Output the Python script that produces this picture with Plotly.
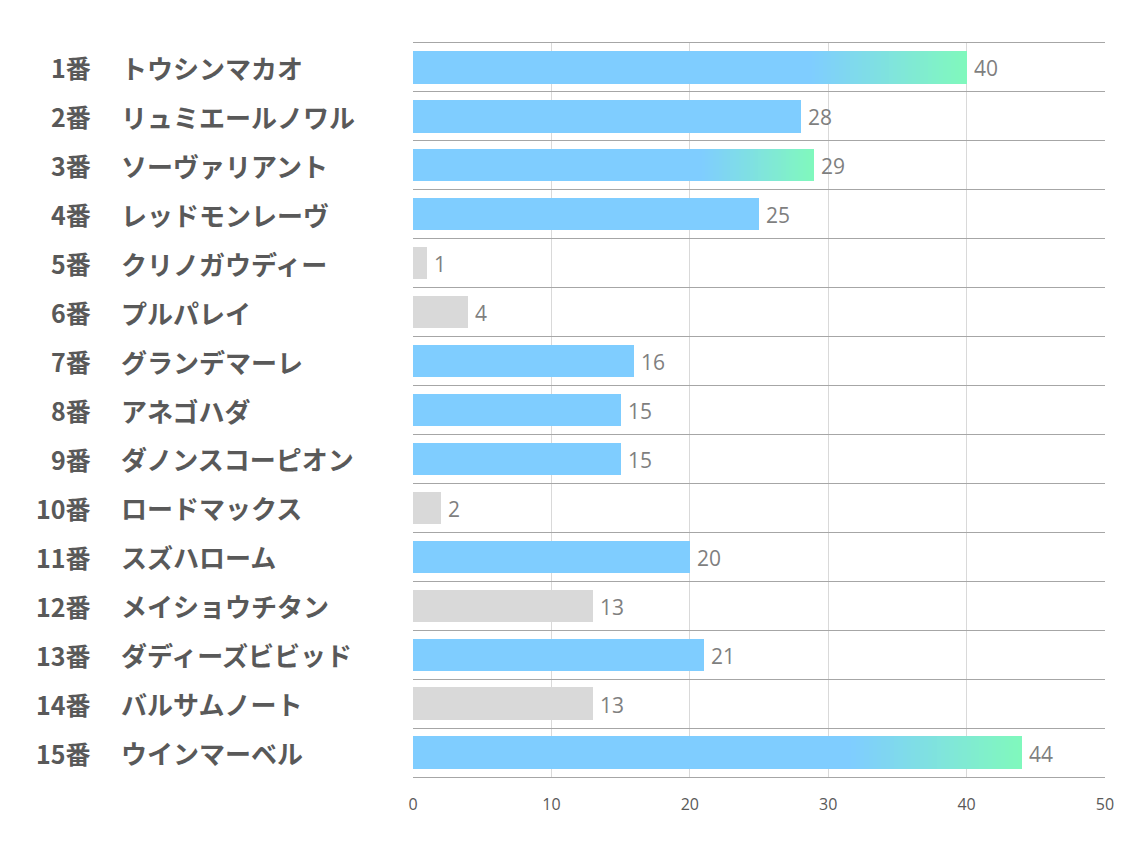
import plotly.graph_objects as go

numbers = ["1番", "2番", "3番", "4番", "5番", "6番", "7番", "8番", "9番", "10番",
           "11番", "12番", "13番", "14番", "15番"]
names = ["トウシンマカオ", "リュミエールノワル", "ソーヴァリアント", "レッドモンレーヴ",
         "クリノガウディー", "プルパレイ", "グランデマーレ", "アネゴハダ", "ダノンスコーピオン",
         "ロードマックス", "スズハローム", "メイショウチタン", "ダディーズビビッド",
         "バルサムノート", "ウインマーベル"]
values = [40, 28, 29, 25, 1, 4, 16, 15, 15, 2, 20, 13, 21, 13, 44]
# bar style: "top" = blue→green gradient, "blue", "gray"
styles = ["top", "blue", "top", "blue", "gray", "gray", "blue", "blue", "blue", "gray",
          "blue", "gray", "blue", "gray", "top"]
tick_values = [0, 10, 20, 30, 40, 50]

BLUE = (127, 205, 255)
GREEN = (128, 249, 188)
GRAY = "#d9d9d9"
BAR_W = 0.66
GRAD_START = 0.72
N_SEG = 40

fig = go.Figure()

for i, (v, s) in enumerate(zip(values, styles)):
    if s == "gray":
        fig.add_trace(go.Bar(x=[v], y=[i], orientation="h", marker_color=GRAY,
                             marker_line_width=0, width=BAR_W, hoverinfo="skip"))
    elif s == "blue":
        fig.add_trace(go.Bar(x=[v], y=[i], orientation="h",
                             marker_color="rgb(%d,%d,%d)" % BLUE,
                             marker_line_width=0, width=BAR_W, hoverinfo="skip"))
    else:
        start = v * GRAD_START
        fig.add_trace(go.Bar(x=[start], y=[i], orientation="h",
                             marker_color="rgb(%d,%d,%d)" % BLUE,
                             marker_line_width=0, width=BAR_W, hoverinfo="skip"))
        seg = (v - start) / N_SEG
        for k in range(N_SEG):
            t = (k + 0.5) / N_SEG
            c = tuple(round(BLUE[j] + (GREEN[j] - BLUE[j]) * t) for j in range(3))
            w = seg * 1.02 if k < N_SEG - 1 else seg
            fig.add_trace(go.Bar(x=[w], base=[start + k * seg], y=[i],
                                 orientation="h", marker_color="rgb(%d,%d,%d)" % c,
                                 marker_line_width=0, width=BAR_W, hoverinfo="skip"))

annotations = []
# value labels
for i, v in enumerate(values):
    annotations.append(dict(x=v, y=i, xref="x", yref="y", text=str(v), showarrow=False,
                            xanchor="left", yanchor="middle", xshift=5, yshift=-1,
                            font=dict(family="Open Sans, Noto Sans", size=21, color="#7f7f7f")))

for i, (n, nm) in enumerate(zip(numbers, names)):
    annotations.append(dict(x=-0.4624, y=i, xref="paper", yref="y", text="<b>%s</b>" % n,
                            showarrow=False, xanchor="right", yanchor="middle",
                            font=dict(family="Noto Sans CJK JP", size=25, color="#595959")))
    annotations.append(dict(x=-0.4249, y=i, xref="paper", yref="y", text="<b>%s</b>" % nm,
                            showarrow=False, xanchor="left", yanchor="middle",
                            font=dict(family="Noto Sans CJK JP", size=26, color="#595959")))

fig.update_layout(
    width=1134, height=850,
    barmode="overlay",
    showlegend=False,
    plot_bgcolor="white", paper_bgcolor="white",
    margin=dict(l=405, r=37, t=35, b=81),
    bargap=0,
    annotations=annotations,
    xaxis=dict(range=[0, 50], tickvals=tick_values, showgrid=True, gridcolor="#d9d9d9",
               gridwidth=1, zeroline=False, showline=True, linecolor="#a6a6a6", mirror=True,
               linewidth=1, ticks="", ticklabelstandoff=13,
               tickfont=dict(family="Open Sans, Noto Sans", size=16, color="#595959")),
    yaxis=dict(range=[14.5, -0.5], tick0=-0.5, dtick=1, showgrid=True, gridcolor="#a6a6a6",
               gridwidth=1, zeroline=False, showticklabels=False, showline=False),
)

fig.write_html("out.html")
